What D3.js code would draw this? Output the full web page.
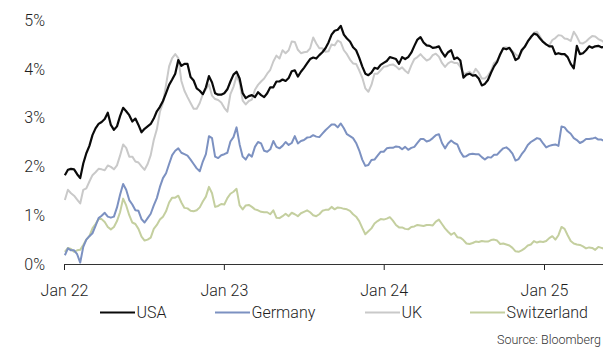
<!DOCTYPE html>
<html>
<head>
<meta charset="utf-8">
<script src="https://cdn.jsdelivr.net/npm/d3@7"></script>
<style>
  html, body { margin: 0; padding: 0; background: #fff; }
  svg { display: block; font-family: Roboto, "Liberation Sans", sans-serif; font-weight: 300; }
</style>
</head>
<body>
<svg id="chart" width="603" height="347"></svg>
<script>
// Weekly 10-year government bond yields, in percent
const firstWeek = "2022-01-03";

const usa = [
  1.82,1.93,1.95,1.94,1.84,1.76,2.06,2.27,2.42,2.64,
  2.78,2.87,2.91,2.97,3.10,2.85,2.75,2.82,3.03,3.20,
  3.13,3.05,2.92,2.98,2.85,2.70,2.77,2.82,2.87,2.98,
  3.13,3.22,3.34,3.50,3.67,3.78,3.90,4.18,4.06,4.10,
  4.10,3.83,3.76,3.60,3.55,3.48,3.62,3.85,3.72,3.50,
  3.47,3.47,3.50,3.58,3.74,3.88,3.94,3.80,3.50,3.40,
  3.44,3.46,3.42,3.52,3.46,3.42,3.50,3.62,3.62,3.74,
  3.74,3.78,3.75,3.81,3.95,3.97,3.84,3.94,4.02,4.11,
  4.20,4.23,4.21,4.28,4.34,4.42,4.54,4.70,4.78,4.80,
  4.88,4.70,4.62,4.56,4.44,4.38,4.23,4.05,3.90,3.87,
  3.92,4.02,4.00,4.08,4.12,4.16,4.24,4.22,4.20,4.10,
  4.24,4.20,4.24,4.33,4.47,4.60,4.65,4.54,4.48,4.47,
  4.43,4.44,4.46,4.34,4.25,4.34,4.38,4.20,4.23,4.17,
  3.82,3.88,3.90,3.86,3.87,3.80,3.66,3.69,3.77,3.92,
  4.05,4.14,4.30,4.42,4.40,4.43,4.33,4.18,4.22,4.38,
  4.45,4.56,4.65,4.72,4.70,4.62,4.55,4.50,4.46,4.46,
  4.30,4.32,4.30,4.30,4.24,4.10,4.01,4.47,4.30,4.32,
  4.38,4.46,4.43,4.46,4.47,4.44,4.45
];

const germany = [
  0.18,0.32,0.28,0.28,0.20,0.03,0.35,0.50,0.57,0.63,
  0.78,0.94,0.99,1.05,0.97,0.95,0.97,1.16,1.42,1.64,
  1.52,1.31,1.22,1.10,1.09,0.92,0.85,0.94,1.03,1.20,
  1.35,1.58,1.76,1.86,2.05,2.23,2.32,2.37,2.28,2.25,
  2.22,2.14,2.05,1.96,1.90,2.10,2.25,2.62,2.58,2.20,
  2.17,2.23,2.25,2.28,2.51,2.60,2.80,2.45,2.20,2.14,
  2.25,2.20,2.40,2.50,2.47,2.32,2.30,2.35,2.52,2.40,
  2.37,2.42,2.50,2.44,2.48,2.62,2.47,2.52,2.54,2.59,
  2.60,2.64,2.61,2.60,2.67,2.74,2.80,2.86,2.86,2.80,
  2.88,2.78,2.66,2.62,2.58,2.48,2.33,2.14,2.01,2.03,
  2.13,2.14,2.22,2.30,2.30,2.37,2.38,2.38,2.41,2.40,
  2.35,2.40,2.34,2.38,2.40,2.48,2.56,2.56,2.51,2.53,
  2.58,2.64,2.66,2.48,2.37,2.47,2.53,2.48,2.45,2.30,
  2.20,2.21,2.25,2.26,2.25,2.25,2.19,2.14,2.19,2.18,
  2.24,2.24,2.31,2.37,2.39,2.34,2.26,2.12,2.15,2.25,
  2.33,2.44,2.50,2.54,2.58,2.56,2.47,2.39,2.42,2.44,
  2.45,2.42,2.82,2.80,2.72,2.67,2.58,2.54,2.48,2.51,
  2.56,2.56,2.57,2.59,2.55,2.55,2.52
];

const uk = [
  1.31,1.52,1.45,1.40,1.32,1.24,1.52,1.55,1.69,1.82,
  1.88,1.95,1.94,1.92,2.02,1.99,1.94,2.02,2.22,2.45,
  2.38,2.20,2.20,2.10,2.08,2.00,1.93,2.05,2.23,2.54,
  2.76,3.12,3.30,3.67,4.05,4.22,4.30,4.22,3.75,3.55,
  3.42,3.30,3.18,3.18,3.30,3.48,3.58,3.68,3.45,3.38,
  3.36,3.31,3.20,3.12,3.48,3.63,3.85,3.72,3.35,3.27,
  3.34,3.37,3.57,3.67,3.74,3.80,3.90,3.98,4.15,4.27,
  4.21,4.38,4.32,4.38,4.56,4.55,4.39,4.32,4.34,4.35,
  4.42,4.64,4.52,4.42,4.42,4.35,4.36,4.50,4.48,4.58,
  4.54,4.38,4.30,4.19,4.11,4.10,3.97,3.82,3.60,3.53,
  3.67,3.90,3.90,3.97,4.04,4.05,4.08,4.09,4.05,3.99,
  4.03,3.96,3.91,4.07,4.20,4.24,4.30,4.23,4.17,4.20,
  4.28,4.31,4.25,4.12,4.04,4.11,4.15,4.12,4.12,4.04,
  3.90,3.91,3.94,3.88,4.00,3.92,3.80,3.80,3.86,3.96,
  4.12,4.17,4.28,4.43,4.44,4.42,4.36,4.30,4.25,4.35,
  4.45,4.57,4.63,4.74,4.76,4.66,4.55,4.49,4.48,4.59,
  4.63,4.69,4.68,4.62,4.61,4.57,4.76,4.66,4.53,4.52,
  4.56,4.62,4.67,4.66,4.61,4.58,4.54
];

const switzerland = [
  0.25,0.33,0.31,0.25,0.28,0.29,0.39,0.50,0.57,0.73,
  0.82,0.92,0.92,0.86,0.76,0.71,0.76,0.88,1.06,1.34,
  1.20,1.00,0.85,0.82,0.72,0.56,0.48,0.50,0.54,0.72,
  0.80,0.91,0.97,1.08,1.26,1.36,1.36,1.40,1.26,1.15,
  1.14,1.09,1.08,1.10,1.16,1.28,1.38,1.58,1.45,1.17,
  1.19,1.23,1.22,1.35,1.44,1.48,1.54,1.20,1.12,1.20,
  1.21,1.17,1.12,1.10,1.07,1.06,1.06,1.02,1.10,0.95,
  0.94,0.98,1.03,0.98,1.05,1.02,0.98,1.04,1.07,1.10,
  1.06,1.00,0.98,1.02,1.09,1.11,1.11,1.17,1.12,1.16,
  1.15,1.13,1.12,1.09,1.02,0.97,0.88,0.74,0.61,0.67,
  0.73,0.83,0.88,0.92,0.91,0.93,0.96,0.89,0.80,0.75,
  0.75,0.72,0.71,0.76,0.77,0.80,0.79,0.78,0.80,0.80,
  0.79,0.87,0.91,0.82,0.73,0.66,0.60,0.64,0.55,0.54,
  0.49,0.42,0.41,0.43,0.46,0.45,0.47,0.46,0.46,0.49,
  0.50,0.48,0.41,0.42,0.40,0.38,0.33,0.26,0.25,0.28,
  0.32,0.38,0.40,0.47,0.44,0.46,0.45,0.47,0.53,0.57,
  0.50,0.59,0.76,0.72,0.59,0.47,0.42,0.40,0.39,0.36,
  0.32,0.34,0.33,0.29,0.35,0.33,0.31
];

const seriesNames = ["USA", "Germany", "UK", "Switzerland"];
const seriesColors = ["#0a0a0a", "#7c91c1", "#c9c9c9", "#c4cf9f"];
const yTickValues = [0, 1, 2, 3, 4, 5];
const xTickDates = ["2022-01-01", "2023-01-01", "2024-01-01", "2025-01-01"];
const sourceNote = "Source: Bloomberg";

const parse = d3.utcParse("%Y-%m-%d");
const start = parse(firstWeek);
const dates = usa.map((_, i) => d3.utcDay.offset(start, 7 * i));

const svg = d3.select("#chart");

const x = d3.scaleUtc()
  .domain([parse("2022-01-01"), parse("2025-01-01")])
  .range([64, 544]);
const y = d3.scaleLinear().domain([0, 5]).range([264, 20]);

// clip the plot to the chart area
svg.append("defs").append("clipPath").attr("id", "plot")
  .append("rect").attr("x", 60).attr("y", 0).attr("width", 543).attr("height", 270);

// y labels (no tick marks, no gridlines)
svg.append("g")
  .selectAll("text")
  .data(yTickValues)
  .join("text")
  .attr("x", 45)
  .attr("y", d => y(d))
  .attr("dy", "0.36em")
  .attr("text-anchor", "end")
  .attr("font-size", 16)
  .attr("fill", "#1e1e1e")
  .text(d => d + "%");

// x axis
const xAxis = d3.axisBottom(x)
  .tickValues(xTickDates.map(parse))
  .tickFormat(d3.utcFormat("%b %y"))
  .tickSize(6)
  .tickPadding(15);

const gx = svg.append("g")
  .attr("transform", `translate(0,${y(0)})`)
  .call(xAxis);
gx.select(".domain").remove();
gx.selectAll(".tick line").attr("stroke", "#222");
gx.selectAll(".tick text")
  .attr("font-size", 16)
  .attr("font-family", "Roboto, 'Liberation Sans', sans-serif")
  .attr("font-weight", 300)
  .attr("fill", "#1e1e1e");
gx.append("line")
  .attr("x1", 64).attr("x2", 603)
  .attr("y1", 0.5).attr("y2", 0.5)
  .attr("stroke", "#333").attr("stroke-width", 1);

// lines
const seriesData = [usa, germany, uk, switzerland];
const line = d3.line()
  .x((d, i) => x(dates[i]))
  .y(d => y(d));

const drawOrder = [3, 1, 2, 0];
svg.append("g").attr("clip-path", "url(#plot)")
  .selectAll("path")
  .data(drawOrder)
  .join("path")
  .attr("d", k => line(seriesData[k]))
  .attr("fill", "none")
  .attr("stroke", k => seriesColors[k])
  .attr("stroke-width", k => k === 0 ? 2.2 : 2)
  .attr("stroke-linejoin", "round");

// legend
const legendX = [100, 215, 365, 470];
const legend = svg.append("g");
seriesNames.forEach((name, k) => {
  legend.append("line")
    .attr("x1", legendX[k]).attr("x2", legendX[k] + 35)
    .attr("y1", 312.5).attr("y2", 312.5)
    .attr("stroke", seriesColors[k])
    .attr("stroke-width", 2);
  legend.append("text")
    .attr("x", legendX[k] + 36.5)
    .attr("y", 318)
    .attr("font-size", 16)
    .attr("fill", "#1e1e1e")
    .text(name);
});

svg.append("text")
  .attr("x", 601).attr("y", 344)
  .attr("text-anchor", "end")
  .attr("font-size", 12.5)
  .attr("fill", "#333")
  .text(sourceNote);
</script>
</body>
</html>
